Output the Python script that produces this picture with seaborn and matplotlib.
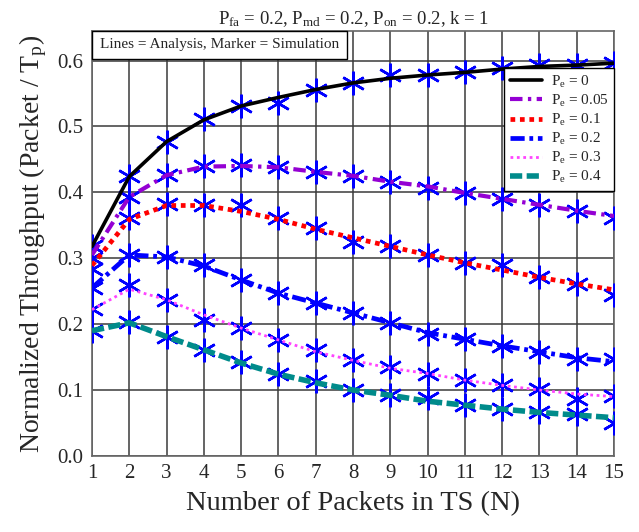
import matplotlib
matplotlib.use("Agg")
import matplotlib.pyplot as plt
from matplotlib.offsetbox import AnchoredText
import seaborn as sns
import numpy as np

# Data
N = list(range(1, 16))

pe_labels = ["0", "0.05", "0.1", "0.2", "0.3", "0.4"]

# analysis (lines)
pe0_line   = [0.318, 0.424, 0.477, 0.510, 0.531, 0.544, 0.556, 0.566, 0.573, 0.578, 0.582, 0.587, 0.591, 0.593, 0.596]
pe005_line = [0.305, 0.393, 0.426, 0.439, 0.440, 0.438, 0.431, 0.425, 0.416, 0.409, 0.399, 0.390, 0.381, 0.372, 0.364]
pe01_line  = [0.289, 0.359, 0.380, 0.380, 0.371, 0.359, 0.344, 0.331, 0.318, 0.305, 0.293, 0.282, 0.271, 0.261, 0.252]
pe02_line  = [0.255, 0.305, 0.302, 0.288, 0.267, 0.247, 0.232, 0.217, 0.202, 0.187, 0.177, 0.167, 0.158, 0.149, 0.143]
pe03_line  = [0.222, 0.253, 0.237, 0.214, 0.194, 0.176, 0.158, 0.145, 0.133, 0.125, 0.115, 0.107, 0.100, 0.094, 0.090]
pe04_line  = [0.190, 0.202, 0.181, 0.161, 0.141, 0.124, 0.111, 0.100, 0.092, 0.083, 0.077, 0.071, 0.066, 0.062, 0.058]

# simulation (markers)
pe0_sim   = [0.318, 0.424, 0.477, 0.511, 0.531, 0.535, 0.556, 0.566, 0.578, 0.578, 0.582, 0.588, 0.593, 0.593, 0.596]
pe005_sim = [0.300, 0.393, 0.426, 0.440, 0.441, 0.438, 0.431, 0.424, 0.416, 0.407, 0.399, 0.390, 0.380, 0.372, 0.361]
pe01_sim  = [0.284, 0.361, 0.382, 0.380, 0.380, 0.361, 0.346, 0.325, 0.318, 0.305, 0.293, 0.290, 0.271, 0.261, 0.244]
pe02_sim  = [0.255, 0.305, 0.302, 0.290, 0.267, 0.247, 0.232, 0.217, 0.202, 0.185, 0.178, 0.167, 0.158, 0.147, 0.147]
pe03_sim  = [0.223, 0.259, 0.237, 0.206, 0.194, 0.176, 0.160, 0.145, 0.135, 0.125, 0.115, 0.107, 0.102, 0.086, 0.091]
pe04_sim  = [0.189, 0.203, 0.180, 0.161, 0.143, 0.124, 0.113, 0.100, 0.092, 0.088, 0.077, 0.071, 0.067, 0.064, 0.050]

lines = [pe0_line, pe005_line, pe01_line, pe02_line, pe03_line, pe04_line]
sims  = [pe0_sim, pe005_sim, pe01_sim, pe02_sim, pe03_sim, pe04_sim]

# line styles: color, width, dash pattern
styles = [
    ("black",   2.6, "-"),
    ("#9400D3", 3.0, (0, (3, 1.3, 0.8, 1.3))),
    ("#FF0000", 3.4, (0, (1, 1))),
    ("#0000FF", 3.4, (0, (3, 1.0, 0.8, 1.0))),
    ("#FF44FF", 2.0, (0, (1, 1.3))),
    ("#008B8B", 4.0, (0, (2.2, 0.8))),
]

sns.set_style("whitegrid")
plt.rcParams["font.family"] = ["Liberation Serif", "DejaVu Serif"]
plt.rcParams["mathtext.fontset"] = "custom"
plt.rcParams["mathtext.rm"] = "Liberation Serif"
plt.rcParams["mathtext.it"] = "Liberation Serif:italic"

fig = plt.figure(figsize=(6.39, 5.32), dpi=100)
ax = fig.add_axes([0.144, 0.143, 0.817, 0.799])

# simulation markers first, lines drawn on top
# (6, 2, 0) = six-armed asterisk with a vertical arm
for sim in sims:
    sns.lineplot(x=N, y=sim, ax=ax, color="blue", linestyle="", marker=(6, 2, 0),
                 markersize=17, markeredgewidth=1.8, markeredgecolor="blue", zorder=3)

handles = []
for vals, lab, (col, lw, ls) in zip(lines, pe_labels, styles):
    sns.lineplot(x=N, y=vals, ax=ax, color=col, linewidth=lw, linestyle=ls, zorder=4)
    h = ax.get_lines()[-1]
    h.set_label("P$\\mathregular{_e}$ = " + lab)
    handles.append(h)

ax.set_xlim(1, 15)
ax.set_ylim(0, 0.645)
ax.set_xticks(N)
ax.set_yticks(np.arange(0, 0.61, 0.1))
ax.set_yticklabels([f"{v:.1f}" for v in np.arange(0, 0.61, 0.1)])
ax.tick_params(labelsize=15, direction="in", length=4, pad=6)

ax.grid(True, color="#3a3a3a", linewidth=1.1, linestyle="-")
for sp in ax.spines.values():
    sp.set_color("#666666")
    sp.set_linewidth(1.2)

ax.set_xlabel("Number of Packets in TS (N)", fontsize=20.5, labelpad=6)
ax.set_ylabel("Normalized Throughput (Packet / T$\\mathregular{_p}$)", fontsize=20, labelpad=6)
ax.set_title("P$\\mathregular{_{fa}}$ = 0.2, P$\\mathregular{_{md}}$ = 0.2, "
             "P$\\mathregular{_{on}}$ = 0.2, k = 1", fontsize=13.5, pad=5)

leg = ax.legend(handles=handles, loc="upper right", bbox_to_anchor=(1.0, 0.912),
                fontsize=11, frameon=True, fancybox=False, framealpha=1,
                edgecolor="black", borderaxespad=0, handlelength=2.1,
                labelspacing=0.2, borderpad=0.35, handletextpad=0.6)
leg.get_frame().set_linewidth(1.0)

at = AnchoredText("Lines = Analysis, Marker = Simulation", loc="upper left",
                  prop=dict(size=11), frameon=True, pad=0.5, borderpad=0)
at.patch.set_edgecolor("black")
at.patch.set_linewidth(1.0)
at.patch.set_boxstyle("square,pad=0")
at.zorder = 6
ax.add_artist(at)

fig.savefig("out.png", dpi=100)
